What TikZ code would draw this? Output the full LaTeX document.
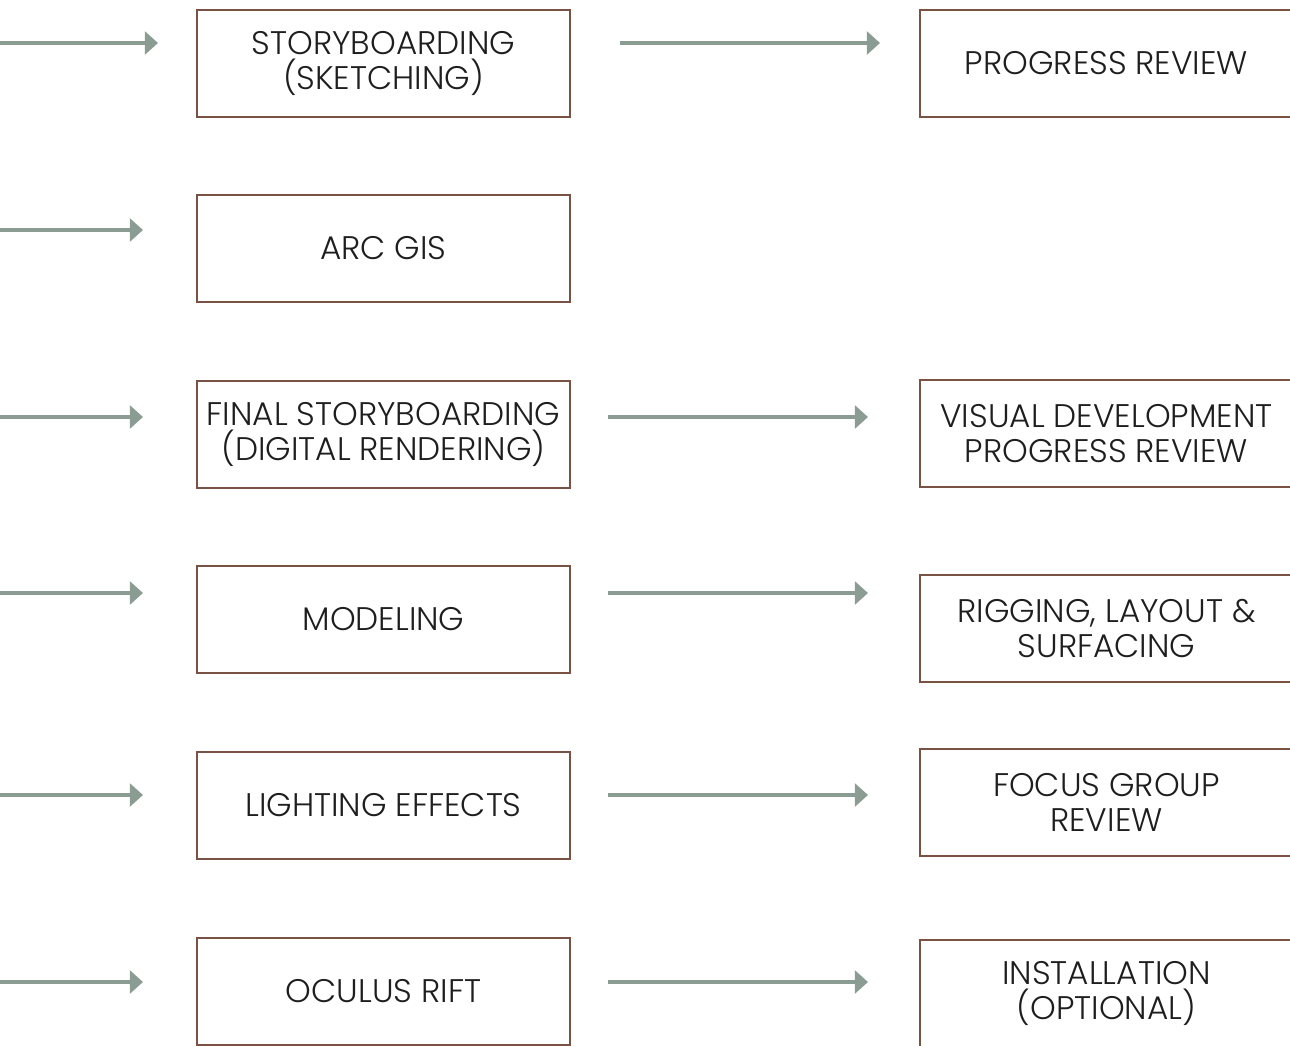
\documentclass[tikz,border=0pt]{standalone}
\usepackage{fontspec}
\setmainfont{Poppins Light}
\usetikzlibrary{arrows.meta}
\definecolor{boxbrown}{HTML}{7A5244}
\definecolor{arrowgray}{HTML}{8B9C93}
\definecolor{ink}{HTML}{1E1E1E}
\begin{document}
\begin{tikzpicture}[x=0.02cm,y=-0.02cm,
  stepbox/.style={draw=boxbrown, line width=0.8pt, minimum width=7.46cm,
    minimum height=2.14cm, align=center, inner sep=0pt, text=ink,
    font=\fontsize{18.6}{20}\selectfont},
  flow/.style={draw=arrowgray, line width=2.3pt,
    -{Triangle[length=7.5pt,width=13pt]}}]
\useasboundingbox (0,0) rectangle (1290,1045);
\clip (0,0) rectangle (1290,1045);

% left column
\node[stepbox] (sb)   at (383.5,63.5)  {STORYBOARDING\\(SKETCHING)};
\node[stepbox] (gis)  at (383.5,248.5) {ARC GIS};
\node[stepbox] (fsb)  at (383.5,434.5) {FINAL STORYBOARDING\\(DIGITAL RENDERING)};
\node[stepbox] (mod)  at (383.5,619.5) {MODELING};
\node[stepbox] (lig)  at (383.5,805.5) {LIGHTING EFFECTS};
\node[stepbox] (ocu)  at (383.5,991.5) {OCULUS RIFT};

% right column
\node[stepbox] (pr)   at (1106.5,63.5)  {PROGRESS REVIEW};
\node[stepbox] (vd)   at (1106.5,433.5) {VISUAL DEVELOPMENT\\PROGRESS REVIEW};
\node[stepbox] (rig)  at (1106.5,628.5) {RIGGING, LAYOUT \&\\SURFACING};
\node[stepbox] (fg)   at (1106.5,802.5) {FOCUS GROUP\\REVIEW};
\node[stepbox] (ins)  at (1106.5,993.5) {INSTALLATION\\(OPTIONAL)};

% incoming arrows on the left
\coordinate (a1s) at (-10,43);  \coordinate (a1e) at (158,43);
\coordinate (a2s) at (-10,230); \coordinate (a2e) at (143,230);
\coordinate (a3s) at (-10,417); \coordinate (a3e) at (143,417);
\coordinate (a4s) at (-10,593); \coordinate (a4e) at (143,593);
\coordinate (a5s) at (-10,795); \coordinate (a5e) at (143,795);
\coordinate (a6s) at (-10,982); \coordinate (a6e) at (143,982);
\foreach \i in {1,...,6} \draw[flow] (a\i s) -- (a\i e);

% arrows between the columns
\coordinate (b1s) at (620,43);  \coordinate (b1e) at (880,43);
\coordinate (b3s) at (608,417); \coordinate (b3e) at (868,417);
\coordinate (b4s) at (608,593); \coordinate (b4e) at (868,593);
\coordinate (b5s) at (608,795); \coordinate (b5e) at (868,795);
\coordinate (b6s) at (608,982); \coordinate (b6e) at (868,982);
\foreach \i in {1,3,4,5,6} \draw[flow] (b\i s) -- (b\i e);
\end{tikzpicture}
\end{document}
